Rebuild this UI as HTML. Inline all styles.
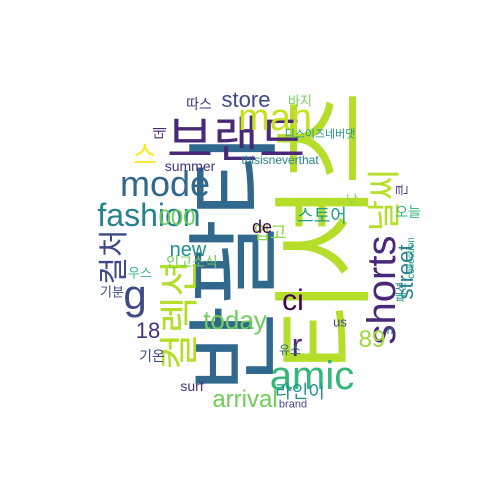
<!DOCTYPE html>
<html><head><meta charset="utf-8"><style>
body{margin:0;width:504px;height:504px;background:#fff;overflow:hidden;position:relative;font-family:"Liberation Sans","Noto Sans CJK KR",sans-serif}
.w{position:absolute;white-space:nowrap;line-height:1;transform:translate(-50%,-50%)}
.v{transform:translate(-50%,-50%) rotate(-90deg)}
</style></head><body>
<div id="cloud"></div>
<script>
const words=["반팔티","티셔츠","브랜드","man","store","mode","fashion","날씨","shorts","street","컬처","g","today","컬렉션","amic","ci","r","arrival","new","000","스토어","입고","18","89","라인이","summer","thisisneverthat","디스이즈네버댓","따스","바지","오늘","인고소식","기분","우스","기온","surf","brand","유스","스","데","de","낮","큰","us","collection","패션","n"];
const sizes=[94,102,50,38,22,36,32,34,40,22,30,42,26,40,40,30,32,24,20,22,18,18,22,24,18,14,12,11,14,13,14,14,13,13,14,14,11,12,26,14,18,13,13,13,10,11,12];
const xs=[235,325,236,275,246,165,149,385,382,406,115,135,235,180,312,293,297,245,188,177,322,270,148,372,300,190,280,320,199,300,408,192,112,140,152,192,293,290,145,160,262,352,402,340,412,402,390];
const ys=[262,232,140,118,100,184,215,200,290,272,257,295,320,315,376,301,345,400,250,218,216,233,331,340,392,166,160,135,104,101,212,262,292,273,356,386,405,350,155,133,227,200,190,322,258,292,330];
const rot=[1,1,0,0,0,0,0,1,1,1,1,0,0,1,0,0,0,0,0,0,0,0,0,0,0,0,0,0,0,0,0,0,0,0,0,0,0,0,0,1,0,0,1,0,1,1,0];
const colors=["#31688e","#b5de2b","#482878","#c8e020","#3e4989","#31688e","#26828e","#b5de2b","#482878","#26828e","#3e4989","#3e4989","#6ece58","#b5de2b","#35b779","#440154","#482878","#6ece58","#21918c","#6ece58","#1f9e89","#90d743","#46327e","#a0da39","#21918c","#46327e","#26828e","#21918c","#46327e","#6ece58","#35b779","#6ece58","#3e4989","#35b779","#3e4989","#46327e","#3e4989","#31688e","#fde725","#482878","#440154","#90d743","#46327e","#3e4989","#1f9e89","#21918c","#2c728e"];
const c=document.getElementById('cloud');
words.forEach((t,i)=>{
 const s=document.createElement('span');
 s.className='w'+(rot[i]?' v':'');
 s.textContent=t;
 s.style.left=xs[i]+'px';s.style.top=ys[i]+'px';
 s.style.fontSize=sizes[i]+'px';s.style.color=colors[i];
 
 
 c.appendChild(s);
});
</script>
</body></html>
